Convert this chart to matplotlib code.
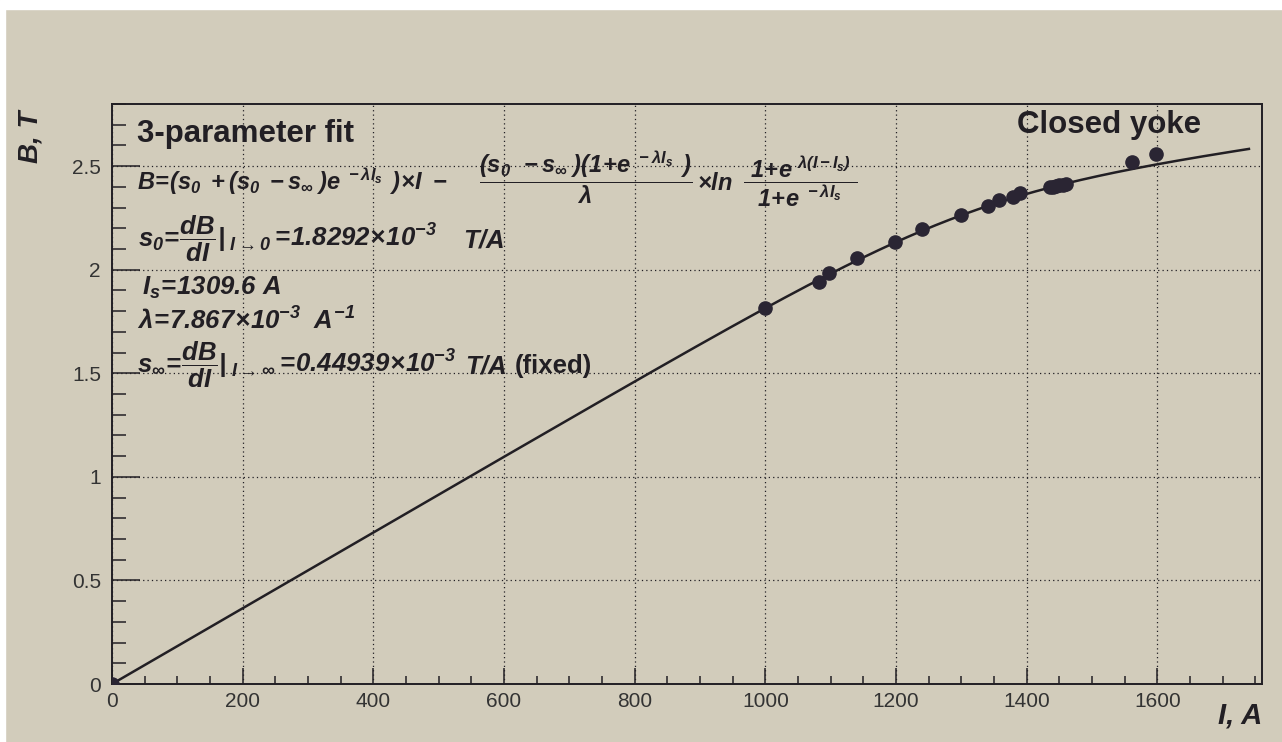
import numpy as np
import matplotlib
matplotlib.use('Agg')
import matplotlib.pyplot as plt
from matplotlib.ticker import MultipleLocator

plt.rcParams['font.family'] = ['Liberation Sans', 'DejaVu Sans']
plt.rcParams['mathtext.fontset'] = 'custom'
plt.rcParams['mathtext.rm'] = 'Liberation Sans:bold:italic'
plt.rcParams['mathtext.it'] = 'Liberation Sans:bold:italic'
plt.rcParams['mathtext.bf'] = 'Liberation Sans:bold'

# measured points (I in A, B in T)
current = [0, 1000, 1082, 1098, 1140, 1198, 1240, 1300, 1340, 1358, 1379, 1390,
           1435, 1440, 1445, 1450, 1455, 1460, 1561, 1598]
field = [0, 1.817, 1.942, 1.985, 2.058, 2.135, 2.197, 2.264, 2.308, 2.337, 2.352, 2.370,
         2.398, 2.400, 2.404, 2.407, 2.410, 2.414, 2.52, 2.56]

# fit parameters shown on the plot
s0 = 1.8292e-3
s_inf = 0.44939e-3
lam = 7.867e-3
I_s = 1309.6
fit_range = (0, 1740)


def fit_func(i):
    a = np.exp(-lam * I_s)
    return ((s0 + (s0 - s_inf) * a) * i
            - (s0 - s_inf) * (1 + a) / lam * np.log((1 + np.exp(lam * (i - I_s))) / (1 + a)))


W, H = 1282, 742
paper = '#d2ccbb'
ink = '#221f24'


def px(x, y):
    # figure pixel (from top-left) -> figure fraction
    return x / W, 1 - y / H


fig = plt.figure(figsize=(W / 100, H / 100), dpi=100, facecolor=paper)
ax = fig.add_axes([112 / W, 1 - 684 / H, 1150 / W, 580 / H])
ax.set_facecolor(paper)

# white photo border (top and left)
fig.patches.append(plt.Rectangle((0, 1 - 9 / H), 1, 9 / H, transform=fig.transFigure,
                                 color='white', zorder=0))
fig.patches.append(plt.Rectangle((0, 0), 5 / W, 1, transform=fig.transFigure,
                                 color='white', zorder=0))

i_fit = np.linspace(fit_range[0], fit_range[1], 400)
ax.plot(i_fit, fit_func(i_fit), color=ink, lw=1.8, zorder=3)
ax.plot(current, field, 'o', color='#2a2533', ms=9.5, zorder=4)

ax.set_xlim(0, 1760)
ax.set_ylim(0, 2.8)
ax.xaxis.set_major_locator(MultipleLocator(200))
ax.xaxis.set_minor_locator(MultipleLocator(50))
ax.yaxis.set_major_locator(MultipleLocator(0.5))
ax.yaxis.set_minor_locator(MultipleLocator(0.1))
ax.xaxis.set_major_formatter(plt.FuncFormatter(lambda v, p: f'{v:g}'))
ax.yaxis.set_major_formatter(plt.FuncFormatter(lambda v, p: f'{v:g}'))

ax.tick_params(axis='x', which='major', direction='in', length=11.5, width=1.1, color=ink,
               labelsize=15, labelcolor='#333', pad=6)
ax.tick_params(axis='x', which='minor', direction='in', length=6, width=1.1, color=ink)
ax.tick_params(axis='y', which='major', direction='in', length=20, width=1.1, color=ink,
               labelsize=15, labelcolor='#333', pad=8)
ax.tick_params(axis='y', which='minor', direction='in', length=10, width=1.1, color=ink)
for sp in ax.spines.values():
    sp.set_color(ink)
    sp.set_linewidth(1.4)

ax.grid(True, which='major', color=ink, linestyle=(0, (1, 2.5)), lw=0.9)

fig.text(*px(31, 137), 'B, T', rotation=90, ha='center', va='center',
         fontsize=20, fontweight='bold', fontstyle='italic', color=ink)
fig.text(*px(1262, 715), 'I, A', ha='right', va='center',
         fontsize=21, fontweight='bold', fontstyle='italic', color=ink)

fig.text(*px(137, 142), '3-parameter fit', fontsize=22.5, fontweight='bold',
         color=ink, va='baseline')
fig.text(*px(1017, 133), 'Closed yoke', fontsize=22.5, fontweight='bold',
         color=ink, va='baseline')

# fit formula, laid out in pieces
fs_f = 17
fig.text(*px(137, 190),
         r'$B\!=\!(s_0\;+(s_0\;-s_\infty\;)e^{\ -\lambda I_s}\;\,)\!\times\! I\ -$',
         fontsize=fs_f, color=ink, va='baseline')
fig.text(*px(586, 190),
         r'$\dfrac{(s_0\;\,-s_\infty\;)(1\!+\!e^{\ -\lambda I_s}\;\,)}{\lambda}$',
         fontsize=fs_f, color=ink, va='baseline', ha='center')
fig.text(*px(697, 190), r'$\times ln$', fontsize=fs_f, color=ink, va='baseline')
fig.text(*px(800, 190),
         r'$\dfrac{\ 1\!+\!e^{\ \lambda(I-I_s)}\;}{1\!+\!e^{\ -\lambda I_s}}$',
         fontsize=fs_f, color=ink, va='baseline', ha='center')

# fitted parameters
fs_p = 18.5
fig.text(*px(138, 247), r'$s_0\!=\!\dfrac{dB}{dI}|_{\ I\rightarrow 0}$',
         fontsize=fs_p, color=ink, va='baseline')
fig.text(*px(270, 247), r'$=\!1.8292\!\times\!10^{-3}$', fontsize=fs_p, color=ink,
         va='baseline')
fig.text(*px(463, 247), r'$T/A$', fontsize=fs_p, color=ink, va='baseline')

fig.text(*px(142, 295), r'$I_s\!=\!1309.6\ A$', fontsize=fs_p, color=ink, va='baseline')

fig.text(*px(137, 330), r'$\lambda\!=\!7.867\!\times\!10^{-3}$', fontsize=fs_p, color=ink,
         va='baseline')
fig.text(*px(313, 330), r'$A^{-1}$', fontsize=fs_p, color=ink, va='baseline')

fig.text(*px(137, 373), r'$s_\infty\!=\!\dfrac{dB}{dI}|_{\ I\rightarrow \infty}$',
         fontsize=fs_p, color=ink, va='baseline')
fig.text(*px(275, 373), r'$=\!0.44939\!\times\!10^{-3}$', fontsize=fs_p, color=ink,
         va='baseline')
fig.text(*px(465, 373), r'$T/A$', fontsize=fs_p, color=ink, va='baseline')
fig.text(*px(515, 373), '(fixed)', fontsize=fs_p, fontweight='bold', color=ink,
         va='baseline')

fig.savefig('out.png', dpi=100, facecolor=paper)
